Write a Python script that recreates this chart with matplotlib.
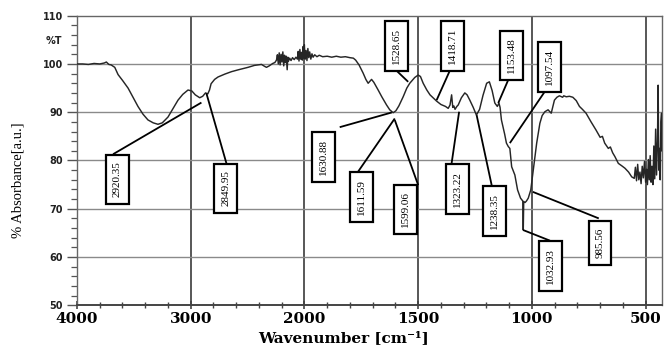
import numpy as np
import matplotlib
matplotlib.use("Agg")
import matplotlib.pyplot as plt
from matplotlib.ticker import FixedLocator, NullFormatter

# ---------------- data ----------------
wavenumber = [
    4000, 3950, 3900, 3850, 3800, 3760, 3742, 3720, 3700, 3668, 3639, 3600, 3551, 3500,
    3464, 3420, 3376, 3330, 3288, 3250, 3200, 3150, 3112, 3070, 3024, 2990, 2960, 2921,
    2895, 2870, 2850, 2835, 2821, 2790, 2760, 2700, 2642, 2580, 2496, 2440, 2378, 2350,
    2334, 2310, 2279, 2260,
    2246, 2238, 2230, 2222, 2214, 2206, 2198, 2190, 2182, 2175, 2168, 2160, 2152, 2146,
    2140, 2130, 2118, 2105, 2090, 2075, 2062,
    2055, 2048, 2040, 2033, 2026, 2019, 2012, 2006, 2001, 1997, 1993, 1989, 1985, 1981,
    1977, 1972, 1967, 1962, 1955, 1945, 1935, 1920, 1900, 1880, 1860, 1840, 1820, 1800,
    1785, 1775, 1760, 1742, 1730, 1720, 1705, 1695, 1676, 1660, 1639, 1625, 1610, 1598,
    1585, 1566, 1550, 1537, 1528, 1515, 1500, 1490, 1478, 1462, 1448, 1430, 1419, 1400,
    1380, 1368, 1360, 1353, 1348, 1343, 1338, 1330, 1324, 1310, 1295, 1285, 1273, 1258,
    1244, 1230, 1215, 1199, 1187, 1175, 1163, 1152, 1145, 1140, 1134, 1120, 1112, 1104,
    1097, 1089, 1075, 1063, 1050, 1040, 1038, 1036, 1030, 1024, 1016, 1005, 998, 990,
    979, 965, 955, 943, 929, 915, 901, 890, 879, 865, 860, 849, 835, 820, 805, 791, 778,
    762, 740, 718, 700, 690, 680, 664, 655, 645, 635, 620, 605, 591, 575, 561, 550, 545,
    540, 535, 530, 525, 520, 515, 510, 505, 500, 496, 492, 488, 484, 480, 476, 472, 468,
    464, 460, 456, 452, 448, 445, 442, 439, 436, 433, 430, 428,
]
absorbance = [
    100.0, 100.0, 99.9, 100.1, 100.0, 100.2, 100.4, 99.9, 99.8, 99.3, 97.8, 96.6, 95.0, 92.8,
    91.2, 89.6, 88.4, 87.8, 87.5, 87.8, 89.0, 91.0, 92.5, 93.7, 94.6, 94.4, 93.6, 93.0,
    93.3, 94.0, 93.8, 94.6, 95.9, 96.8, 97.3, 97.9, 98.4, 98.8, 99.3, 99.7, 99.9, 99.5,
    99.3, 99.6, 100.1, 100.3,
    100.8, 101.9, 100.0, 102.3, 99.8, 102.0, 100.4, 102.5, 99.6, 101.8, 100.3, 101.6, 98.8, 101.4,
    100.6, 101.2, 100.7, 101.3, 100.9, 101.4, 101.0,
    102.6, 100.6, 103.0, 101.0, 102.4, 100.8, 103.6, 101.2, 104.0, 101.0, 102.8, 100.7, 103.2, 101.3,
    102.5, 101.0, 102.1, 101.4, 101.9, 101.5, 101.8, 101.5, 101.6, 101.4, 101.6, 101.4, 101.5, 101.3,
    101.2, 100.8, 99.8, 98.1, 96.8, 96.0, 96.8, 96.2, 94.6, 93.2, 91.5, 90.5, 89.9, 90.3,
    91.3, 93.2, 95.0, 96.0, 96.5, 97.2, 97.7, 97.4, 96.0, 94.6, 93.6, 92.8, 92.3, 91.6,
    91.2, 90.8, 91.5, 93.6, 91.0, 91.3, 90.6, 91.2, 91.5, 93.0, 94.0, 93.6, 92.5, 91.0,
    89.4, 90.6, 93.5, 96.0, 96.3, 94.5, 91.9, 91.2, 91.9, 91.0, 88.4, 85.5, 83.6, 82.9,
    82.5, 78.7, 77.0, 73.9, 72.2, 71.6, 65.6, 71.5, 71.3, 71.6, 72.2, 73.9, 76.6, 79.5,
    83.6, 87.7, 89.3, 90.1, 90.5, 89.8, 92.5, 93.1, 93.4, 93.1, 93.4, 93.2, 93.3, 93.1, 92.4, 91.2, 90.6,
    89.8, 88.0, 86.3, 84.8, 85.0, 83.6, 82.5, 82.8, 81.6, 80.8, 79.4, 78.9, 78.4, 77.6, 76.6, 76.3, 78.6,
    75.8, 79.2, 76.0, 77.6, 75.2, 78.8, 76.4, 79.8, 75.5, 78.2, 75.0, 80.2, 76.0, 81.0, 75.5, 78.8, 75.0,
    83.0, 76.2, 86.5, 77.0, 84.0, 95.6, 78.0, 82.5, 76.0, 88.0, 89.8, 82.0,
]

peak_labels = ["2920.35", "2849.95", "1630.88", "1611.59", "1599.06", "1528.65", "1418.71",
               "1323.22", "1238.35", "1153.48", "1097.54", "1032.93", "985.56"]
# point on the curve that each label points at (wavenumber, value)
peak_points = [(2906, 92.0), (2862, 93.9), (1616, 89.95), (1603, 88.7), (1603, 88.4),
               (1544, 96.3), (1419, 92.5), (1320, 90.1), (1243, 89.4), (1148, 91.9),
               (1097, 83.6), (1039, 65.6), (996, 73.5)]

# layout of the label boxes (box centre, leader start) in data units
box_centres = [(3646, 76.1), (2692, 74.2), (1917, 80.8), (1748, 72.5), (1555, 69.85),
               (1595, 103.7), (1348, 103.7), (1328, 74.1), (1166, 69.6), (1090, 101.75),
               (922, 99.3), (917, 58.2), (701, 62.85)]
leader_starts = [(3683, 81.3), (2686, 79.4), (1845, 86.9), (1764, 77.7), (1500, 74.9),
                 (1595, 98.6), (1361, 98.6), (1354, 79.1), (1177, 74.9), (1104, 96.7),
                 (943, 94.3), (921, 63.4), (706, 68.0)]

x_major = [4000, 3000, 2000, 1500, 1000, 500]
x_minor = [3800, 3600, 3400, 3200, 2800, 2600, 2400, 2200,
           1900, 1800, 1700, 1600, 1400, 1300, 1200, 1100, 900, 800, 700, 600]
y_major = [50, 60, 70, 80, 90, 100, 110]


# ---------------- scale: 2x expansion below 2000 cm-1 ----------------
def fwd(x):
    x = np.asarray(x, dtype=float)
    return np.where(x > 2000, 2000 + (x - 2000) / 2.0, x)


def inv(t):
    t = np.asarray(t, dtype=float)
    return np.where(t > 2000, 2000 + (t - 2000) * 2.0, t)


fig = plt.figure(figsize=(6.65, 3.47), dpi=100)
ax = fig.add_axes([0.1158, 0.1202, 0.8797, 0.8346])
ax.set_xscale("function", functions=(fwd, inv))
ax.set_xlim(4000, 428)
ax.set_ylim(50, 110)

# grid
for g in [3000, 2000, 1500, 1000, 500]:
    ax.axvline(g, color="#4a4a4a", lw=1.3, zorder=1)
for g in [60, 70, 80, 90, 100]:
    ax.axhline(g, color="#8a8a8a", lw=1.0, zorder=1)

ax.plot(wavenumber, absorbance, color="#262626", lw=1.05, zorder=3)

# annotations
for lab, pt, bc, ls in zip(peak_labels, peak_points, box_centres, leader_starts):
    ax.plot([ls[0], pt[0]], [ls[1], pt[1]], color="black", lw=1.3, zorder=4,
            solid_capstyle="butt")
    ax.text(bc[0], bc[1], lab, rotation=90, ha="center", va="center",
            fontsize=8, family="Liberation Serif", zorder=6,
            bbox=dict(boxstyle="square,pad=0.62", fc="white", ec="black", lw=1.6))

# ticks
ax.xaxis.set_major_locator(FixedLocator(x_major))
ax.xaxis.set_minor_locator(FixedLocator(x_minor))
ax.xaxis.set_minor_formatter(NullFormatter())
ax.set_xticklabels([str(v) for v in x_major], fontsize=11, family="DejaVu Serif",
                   fontweight="bold")
ax.yaxis.set_major_locator(FixedLocator(y_major))
ax.yaxis.set_minor_locator(FixedLocator([v for v in range(50, 111, 2) if v % 10]))
ax.set_yticklabels([str(v) for v in y_major], fontsize=7, family="DejaVu Sans",
                   fontweight="bold", color="#222222")
ax.tick_params(axis="y", which="major", direction="out", length=7, width=1.0, pad=3,
               color="#555555")
ax.tick_params(axis="y", which="minor", direction="out", length=4, width=0.9,
               color="#555555")
ax.tick_params(axis="x", which="major", direction="inout", length=6, width=1.2, pad=2,
               color="#444444")
ax.tick_params(axis="x", which="minor", direction="inout", length=4, width=1.0,
               color="#444444")
ax.tick_params(axis="x", which="both", top=False)
ax.tick_params(axis="y", which="both", right=False)

for s in ax.spines.values():
    s.set_color("#666666")
    s.set_linewidth(1.0)
ax.spines["bottom"].set_color("#444444")
ax.spines["bottom"].set_linewidth(1.4)

fig.text(62 / 665, 1 - 41 / 347, "%T", ha="right", va="center", fontsize=7,
         family="DejaVu Sans", fontweight="bold", color="#222222")
fig.text(344 / 665, 1 - 338 / 347, "Wavenumber [cm\u207b\u00b9]", ha="center",
         va="center", fontsize=11, family="DejaVu Serif", fontweight="bold")
fig.text(18 / 665, 1 - 180 / 347, "% Absorbance[a.u.]", rotation=90, ha="center",
         va="center", fontsize=10.5, family="Liberation Serif")

fig.savefig("out.png", dpi=100)
